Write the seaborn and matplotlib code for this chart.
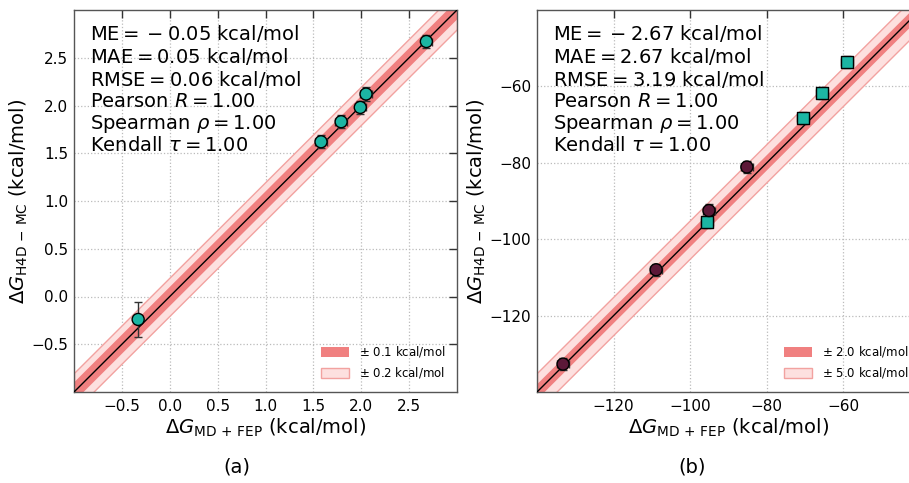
import numpy as np
import pandas as pd
import matplotlib
matplotlib.use("Agg")
import matplotlib.pyplot as plt
import seaborn as sns
from matplotlib.patches import Patch

# ---- panel (a): reference vs. computed free energies (kcal/mol) ----
a_ref = [2.68, 2.05, 1.99, 1.79, 1.58, -0.33]
a_calc = [2.67, 2.12, 1.98, 1.83, 1.62, -0.24]
a_xerr = [0.06, 0.06, 0.06, 0.06, 0.06, 0.04]
a_yerr = [0.07, 0.07, 0.07, 0.07, 0.07, 0.18]
a_group = ["circle"] * 6
a_stats = ["ME$ = {} - 0.05$ kcal/mol", "MAE$ = 0.05$ kcal/mol",
           "RMSE$ = 0.06$ kcal/mol", "Pearson $R = 1.00$",
           r"Spearman $\rho = 1.00$", r"Kendall $\tau = 1.00$"]
a_bands = [0.1, 0.2]
a_ticks = [-0.5, 0.0, 0.5, 1.0, 1.5, 2.0, 2.5]
a_lim = [-1.0, 3.0]

# ---- panel (b) ----
b_ref = [-59.0, -65.6, -70.6, -95.7, -85.2, -95.1, -108.9, -133.2]
b_calc = [-53.7, -61.8, -68.2, -95.4, -81.1, -92.5, -108.0, -132.7]
b_xerr = [1.6] * 8
b_yerr = [1.6] * 8
b_group = ["square"] * 4 + ["circle"] * 4
b_stats = ["ME$ = {} - 2.67$ kcal/mol", "MAE$ = 2.67$ kcal/mol",
           "RMSE$ = 3.19$ kcal/mol", "Pearson $R = 1.00$",
           r"Spearman $\rho = 1.00$", r"Kendall $\tau = 1.00$"]
b_bands = [2.0, 5.0]
b_ticks = [-120, -100, -80, -60]
b_lim = [-140.0, -40.0]

sns.set_style("white")
plt.rcParams["font.family"] = ["DejaVu Sans"]
plt.rcParams["mathtext.fontset"] = "dejavusans"
for key in ("text.color", "axes.labelcolor", "xtick.color", "ytick.color"):
    plt.rcParams[key] = "black"

TEAL = "#1cb5a3"
PLUM = "#5c1838"
INNER = "#f08080"
OUTER_FACE = "#fde0df"
OUTER_EDGE = "#f2a2a0"

fig = plt.figure(figsize=(9.09, 4.83), dpi=100)
ax_a = fig.add_axes([74 / 909, 91 / 483, 383 / 909, 382 / 483])
ax_b = fig.add_axes([537 / 909, 91 / 483, 383 / 909, 382 / 483])


def draw_panel(ax, ref, calc, xerr, yerr, group, stats, bands, ticks, lim):
    xs = np.array(lim)
    # agreement bands around the identity line
    ax.fill_between(xs, xs - bands[1], xs + bands[1], facecolor=OUTER_FACE,
                    edgecolor=OUTER_EDGE, linewidth=1.0, zorder=1)
    ax.fill_between(xs, xs - bands[0], xs + bands[0], facecolor=INNER,
                    edgecolor="none", zorder=2)
    ax.plot(xs, xs, color="black", linewidth=1.0, zorder=3)

    ax.errorbar(ref, calc, xerr=xerr, yerr=yerr, fmt="none", ecolor="#333333",
                elinewidth=1.0, capsize=3, capthick=1.0, zorder=4)
    df = pd.DataFrame({"ref": ref, "calc": calc, "group": group})
    sns.scatterplot(data=df, x="ref", y="calc", hue="group", style="group",
                    palette={"circle": PLUM if "square" in group else TEAL,
                             "square": TEAL},
                    markers={"circle": "o", "square": "s"},
                    s=75, edgecolor="black", linewidth=1.0, legend=False,
                    ax=ax, zorder=5)

    ax.set_xlim(lim)
    ax.set_ylim(lim)
    ax.set_xticks(ticks)
    ax.set_yticks(ticks)
    ax.grid(True, linestyle=":", color="#bbbbbb", linewidth=0.9)
    ax.set_axisbelow(True)
    ax.tick_params(direction="in", length=6, width=1, top=True, right=True,
                   labelsize=11, color="#333333", pad=5)
    ax.tick_params(axis="y", pad=4)
    for sp in ax.spines.values():
        sp.set_color("#555555")
        sp.set_linewidth(1.0)

    ax.set_xlabel(r"$\Delta G_{\mathrm{MD\,+\,FEP}}$ (kcal/mol)", fontsize=14,
                  labelpad=2)
    ax.set_ylabel(r"$\Delta G_{\mathrm{H4D\,-\,MC}}$ (kcal/mol)", fontsize=14,
                  labelpad=1)

    ax.text(0.042, 0.965, "\n".join(stats), transform=ax.transAxes,
            ha="left", va="top", fontsize=14, linespacing=1.11, zorder=6)

    handles = [Patch(facecolor=INNER, edgecolor="none"),
               Patch(facecolor=OUTER_FACE, edgecolor=OUTER_EDGE, linewidth=1.0)]
    labels = [rf"$\pm$ {bands[0]:.1f} kcal/mol", rf"$\pm$ {bands[1]:.1f} kcal/mol"]
    ax.legend(handles, labels, loc="lower right", frameon=False, fontsize=8.5,
              handlelength=2.4, handleheight=0.9, borderaxespad=0.6)


draw_panel(ax_a, a_ref, a_calc, a_xerr, a_yerr, a_group, a_stats, a_bands,
           a_ticks, a_lim)
draw_panel(ax_b, b_ref, b_calc, b_xerr, b_yerr, b_group, b_stats, b_bands,
           b_ticks, b_lim)

fig.text(237 / 909, 16 / 483, "(a)", ha="center", va="center", fontsize=14)
fig.text(692 / 909, 16 / 483, "(b)", ha="center", va="center", fontsize=14)

fig.savefig("out.png", dpi=100)
